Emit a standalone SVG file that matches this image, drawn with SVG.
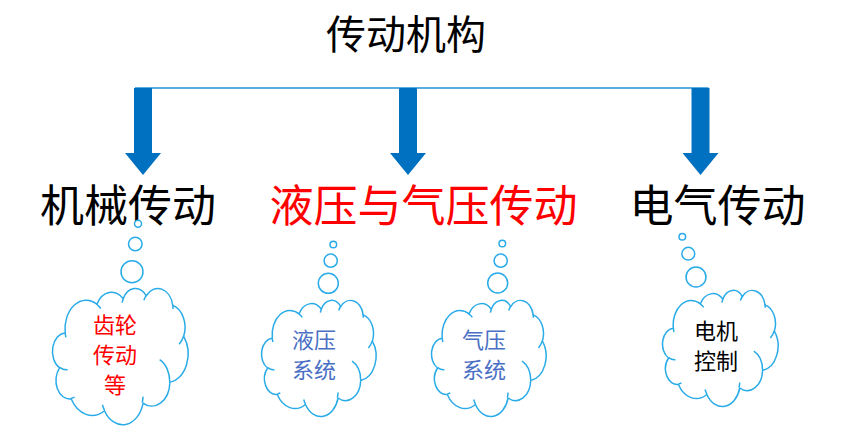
<svg xmlns="http://www.w3.org/2000/svg" xmlns:xlink="http://www.w3.org/1999/xlink" width="852" height="439" viewBox="0 0 852 439">
<style>
text{font-family:"Noto Sans CJK SC","Liberation Sans",sans-serif;text-anchor:middle}
.big{font-size:44px}
.title{font-size:40px;fill:#000}
.cl{font-size:22px}
.red{fill:#ff0000}
.blk{fill:#000}
.blu{fill:#4a6fc4}
.cloud{fill:#fff;stroke:#29abe8;stroke-linejoin:round}
.bub{fill:#fff;stroke:#29abe8;stroke-width:1.5}
.arrow{fill:#0070c0}
</style>
<defs>
<g id="cloudShape">
<path d="M9.03 33.26A15.63 21.27 0 0 1 32.51 12.04A12.34 16.82 0 0 1 51.98 7.94A10.10 13.76 0 0 1 69.06 5.74A11.24 15.27 0 0 1 88.70 12.91A12.34 16.84 0 0 1 96.81 35.79A15.68 21.34 0 0 1 86.59 69.91A13.39 18.21 0 0 1 66.73 85.21A15.63 21.33 0 0 1 38.15 90.89A17.87 24.41 0 0 1 13.44 82.10A10.09 13.70 0 0 1 4.90 59.13A10.06 13.76 0 0 1 9.03 33.26Z"/>
<path fill="none" d="M10.86 60.59A10.06 13.76 0 0 1 5.00 58.75M16.04 80.79A10.09 13.70 0 0 1 13.47 81.67M38.14 90.49A15.63 21.33 0 0 1 36.59 86.46M66.73 80.44A15.63 21.33 0 0 1 66.11 84.86M79.00 53.13A13.39 18.21 0 0 1 86.53 69.65M96.75 35.54A12.34 16.84 0 0 1 93.40 41.74M88.71 12.56A11.24 15.27 0 0 1 88.89 15.48M67.31 9.15A11.24 15.27 0 0 1 69.03 5.42M51.25 10.93A10.10 13.76 0 0 1 52.09 7.71M32.41 12.02A15.63 21.27 0 0 1 35.41 15.14M9.55 36.55A15.63 21.27 0 0 1 9.03 33.26"/>
</g>
</defs>

<g id="title"><text class="title" x="406" y="49">传动机构</text></g>

<g id="connectors">
<line x1="135" y1="88" x2="708.5" y2="88" stroke="#2493d6" stroke-width="1.5"/>
<polygon class="arrow" points="134,88 152,88 152,153 161,153 143,175 125,153 134,153"/>
<polygon class="arrow" points="399,88 417,88 417,153 426,153 408,175 390,153 399,153"/>
<polygon class="arrow" points="691.5,88 709.5,88 709.5,153 718.5,153 700.5,175 682.5,153 691.5,153"/>
</g>

<g id="node-mech"><text class="big blk" x="128" y="222">机械传动</text></g>
<g id="node-fluid"><text class="big red" x="423.5" y="222">液压与气压传动</text></g>
<g id="node-elec"><text class="big blk" x="717.5" y="222">电气传动</text></g>

<g id="cloud-gear">
<circle class="bub" cx="138" cy="223.7" r="3.5"/>
<circle class="bub" cx="135.3" cy="244" r="6.8"/>
<circle class="bub" cx="132" cy="271.7" r="11"/>
<use xlink:href="#cloudShape" class="cloud" stroke-width="1.1" transform="translate(53 288) scale(1.35)"/>
<text class="cl red" x="115" y="333">齿轮</text>
<text class="cl red" x="115" y="363">传动</text>
<text class="cl red" x="115" y="393">等</text>
</g>

<g id="cloud-hydraulic">
<circle class="bub" cx="333.3" cy="244.5" r="3.3"/>
<circle class="bub" cx="330.7" cy="260.7" r="6.6"/>
<circle class="bub" cx="328.3" cy="283.3" r="10"/>
<use xlink:href="#cloudShape" class="cloud" stroke-width="1.3" transform="translate(262 300) scale(1.14 1.15)"/>
<text class="cl blu" x="314" y="348">液压</text>
<text class="cl blu" x="314" y="378">系统</text>
</g>

<g id="cloud-pneumatic">
<circle class="bub" cx="502.3" cy="243.5" r="3.3"/>
<circle class="bub" cx="500.7" cy="260.7" r="6.6"/>
<circle class="bub" cx="497.7" cy="283" r="10"/>
<use xlink:href="#cloudShape" class="cloud" stroke-width="1.3" transform="translate(432 300) scale(1.14 1.15)"/>
<text class="cl blu" x="484" y="348">气压</text>
<text class="cl blu" x="484" y="378">系统</text>
</g>

<g id="cloud-motor">
<circle class="bub" cx="682.3" cy="236.7" r="3.3"/>
<circle class="bub" cx="688.3" cy="253.7" r="6.4"/>
<circle class="bub" cx="696" cy="277" r="10"/>
<use xlink:href="#cloudShape" class="cloud" stroke-width="1.3" transform="translate(663 290) scale(1.15)"/>
<text class="cl blk" x="716" y="339">电机</text>
<text class="cl blk" x="716" y="369">控制</text>
</g>
</svg>
